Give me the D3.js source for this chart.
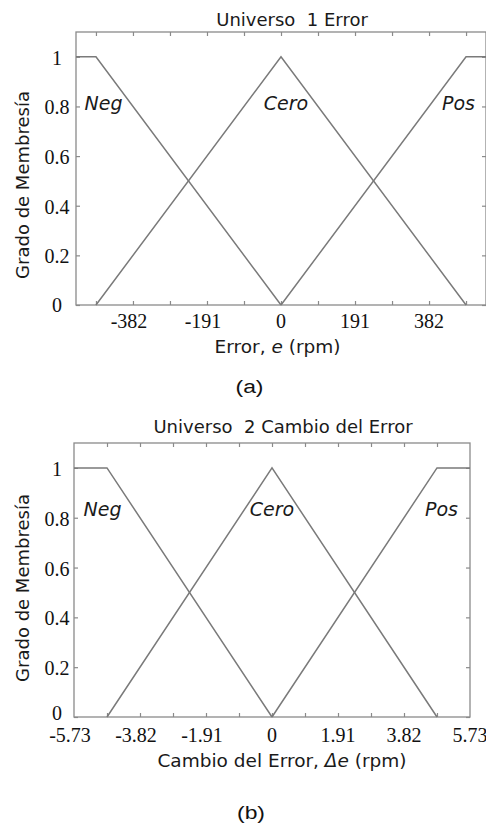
<!DOCTYPE html>
<html>
<head>
<meta charset="utf-8">
<script src="https://cdn.jsdelivr.net/npm/d3@7"></script>
<style>
  html, body { margin: 0; padding: 0; background: #fff; }
  svg { display: block; }
</style>
</head>
<body>
<script>
// ---------- DATA ----------
// Universe 1: Error e (rpm)
const errDomain = [-529, 529];
const errTickLabels = [-382, -191, 0, 191, 382];
const errMinorTicks = [-477.5, -382, -286.5, -191, -95.5, 0, 95.5, 191, 286.5, 382, 477.5];
const errNegX = [-529, -477.5, 0];
const errNegY = [1, 1, 0];
const errCeroX = [-477.5, 0, 477.5];
const errCeroY = [0, 1, 0];
const errPosX = [0, 477.5, 529];
const errPosY = [0, 1, 1];

// Universe 2: Cambio del Error Δe (rpm)
const dErrDomain = [-5.73, 5.73];
const dErrTickLabels = [-5.73, -3.82, -1.91, 0, 1.91, 3.82, 5.73];
const dErrMinorTicks = [-4.775, -3.82, -2.865, -1.91, -0.955, 0, 0.955, 1.91, 2.865, 3.82, 4.775];
const dErrNegX = [-5.73, -4.775, 0];
const dErrNegY = [1, 1, 0];
const dErrCeroX = [-4.775, 0, 4.775];
const dErrCeroY = [0, 1, 0];
const dErrPosX = [0, 4.775, 5.73];
const dErrPosY = [0, 1, 1];

const yTicks = [0, 0.2, 0.4, 0.6, 0.8, 1];
const yDomain = [0, 1.1];
const setNames = ["Neg", "Cero", "Pos"];

// ---------- DRAW ----------
const W = 486, H = 827;
const svg = d3.select("body").append("svg").attr("width", W).attr("height", H);

const lineColor = "#7a7a7a";
const frameColor = "#8a8a8a";
const sans = "'DejaVu Sans', Verdana, sans-serif";
const serif = "'Liberation Serif', 'Times New Roman', serif";

function panel(cfg) {
  const x = d3.scaleLinear().domain(cfg.domain).range([cfg.left, cfg.right]);
  const y = d3.scaleLinear().domain(yDomain).range([cfg.bottom, cfg.top]);
  const g = svg.append("g");

  // frame
  g.append("rect")
    .attr("x", cfg.left).attr("y", cfg.top)
    .attr("width", cfg.right - cfg.left).attr("height", cfg.bottom - cfg.top)
    .attr("fill", "none").attr("stroke", frameColor).attr("stroke-width", 1.3);

  // x ticks (bottom & top, inward)
  const xb = d3.axisBottom(x).tickValues(cfg.minor).tickSize(-4).tickFormat("");
  const xt = d3.axisTop(x).tickValues(cfg.minor).tickSize(-4).tickFormat("");
  const xbG = g.append("g").attr("transform", `translate(0,${cfg.bottom})`).call(xb);
  const xtG = g.append("g").attr("transform", `translate(0,${cfg.top})`).call(xt);
  [xbG, xtG].forEach(a => {
    a.select(".domain").remove();
    a.selectAll("line").attr("stroke", frameColor).attr("stroke-width", 1.2);
  });
  // x tick labels (digits centred on the tick, minus sign hangs left)
  g.append("g").selectAll("text").data(cfg.labels).join("text")
    .attr("x", d => x(d)).attr("y", cfg.bottom + cfg.xLabelDy)
    .attr("dx", d => d < 0 ? -4 : 0)
    .attr("text-anchor", "middle")
    .attr("font-family", serif).attr("font-size", 20).attr("fill", "#111")
    .text(d => d);

  // y ticks (left & right, inward)
  const yl = d3.axisLeft(y).tickValues(yTicks).tickSize(-4).tickFormat("");
  const yr = d3.axisRight(y).tickValues(yTicks).tickSize(-4).tickFormat("");
  const ylG = g.append("g").attr("transform", `translate(${cfg.left},0)`).call(yl);
  const yrG = g.append("g").attr("transform", `translate(${cfg.right},0)`).call(yr);
  [ylG, yrG].forEach(a => {
    a.select(".domain").remove();
    a.selectAll("line").attr("stroke", frameColor).attr("stroke-width", 1.2);
  });
  g.append("g").selectAll("text").data(yTicks).join("text")
    .attr("x", 57).attr("y", d => y(d) + 8 + (d === 0 ? cfg.zeroDy : 0))
    .attr("text-anchor", "middle")
    .attr("font-family", serif).attr("font-size", 20).attr("fill", "#111")
    .text(d => d3.format("")(d));

  // membership lines
  const line = d3.line().x(d => x(d[0])).y(d => y(d[1]));
  cfg.series.forEach(s => {
    const pts = s.xs.map((v, i) => [v, s.ys[i]]);
    g.append("path").datum(pts).attr("d", line)
      .attr("fill", "none").attr("stroke", lineColor).attr("stroke-width", 1.5);
  });

  // set labels
  cfg.series.forEach((s, i) => {
    g.append("text")
      .attr("x", cfg.labelX[i]).attr("y", y(0.8) + cfg.labelDy)
      .attr("text-anchor", "middle")
      .attr("font-family", sans).attr("font-style", "italic")
      .attr("font-size", 19).attr("fill", "#1a1a1a")
      .text(setNames[i]);
  });

  // title
  g.append("text").attr("x", cfg.titleX).attr("y", cfg.titleY)
    .attr("text-anchor", "middle").attr("font-family", sans)
    .attr("font-size", 18).attr("fill", "#1a1a1a")
    .attr("xml:space", "preserve")
    .text(cfg.title);

  // y title
  g.append("text")
    .attr("transform", `translate(29,${cfg.yTitleY}) rotate(-90)`)
    .attr("text-anchor", "middle").attr("font-family", sans)
    .attr("font-size", 18).attr("fill", "#1a1a1a")
    .text("Grado de Membresía");

  // x title
  const xt2 = g.append("text").attr("x", cfg.xTitleX).attr("y", cfg.xTitleY)
    .attr("text-anchor", "middle").attr("font-family", sans)
    .attr("font-size", 18.5).attr("fill", "#1a1a1a");
  xt2.append("tspan").text(cfg.xTitle[0]);
  xt2.append("tspan").attr("font-style", "italic").text(cfg.xTitle[1]);
  xt2.append("tspan").text(cfg.xTitle[2]);

  // caption
  g.append("text").attr("x", cfg.capX).attr("y", cfg.capY)
    .attr("text-anchor", "middle").attr("font-family", "'Liberation Sans', Arial, sans-serif")
    .attr("font-size", 18).attr("fill", "#111")
    .attr("textLength", 28).attr("lengthAdjust", "spacingAndGlyphs")
    .text(cfg.caption);
}

panel({
  domain: errDomain, left: 76, right: 486, top: 32, bottom: 305,
  labels: errTickLabels, minor: errMinorTicks, xLabelDy: 23, zeroDy: -1.5,
  series: [
    { xs: errNegX, ys: errNegY },
    { xs: errCeroX, ys: errCeroY },
    { xs: errPosX, ys: errPosY }
  ],
  labelX: [103.5, 286, 458.5], labelDy: 4,
  title: "Universo  1 Error", titleX: 292, titleY: 26,
  yTitleY: 185,
  xTitle: ["Error, ", "e", " (rpm)"], xTitleX: 277.5, xTitleY: 353,
  caption: "(a)", capX: 249.5, capY: 393
});

panel({
  domain: dErrDomain, left: 74, right: 470, top: 443, bottom: 717,
  labels: dErrTickLabels, minor: dErrMinorTicks, xLabelDy: 25, zeroDy: -5.5,
  series: [
    { xs: dErrNegX, ys: dErrNegY },
    { xs: dErrCeroX, ys: dErrCeroY },
    { xs: dErrPosX, ys: dErrPosY }
  ],
  labelX: [102.5, 272, 441.5], labelDy: -2,
  title: "Universo  2 Cambio del Error", titleX: 283, titleY: 433,
  yTitleY: 588,
  xTitle: ["Cambio del Error, ", "Δe", " (rpm)"], xTitleX: 282, xTitleY: 767,
  caption: "(b)", capX: 251, capY: 819
});
</script>
</body>
</html>
